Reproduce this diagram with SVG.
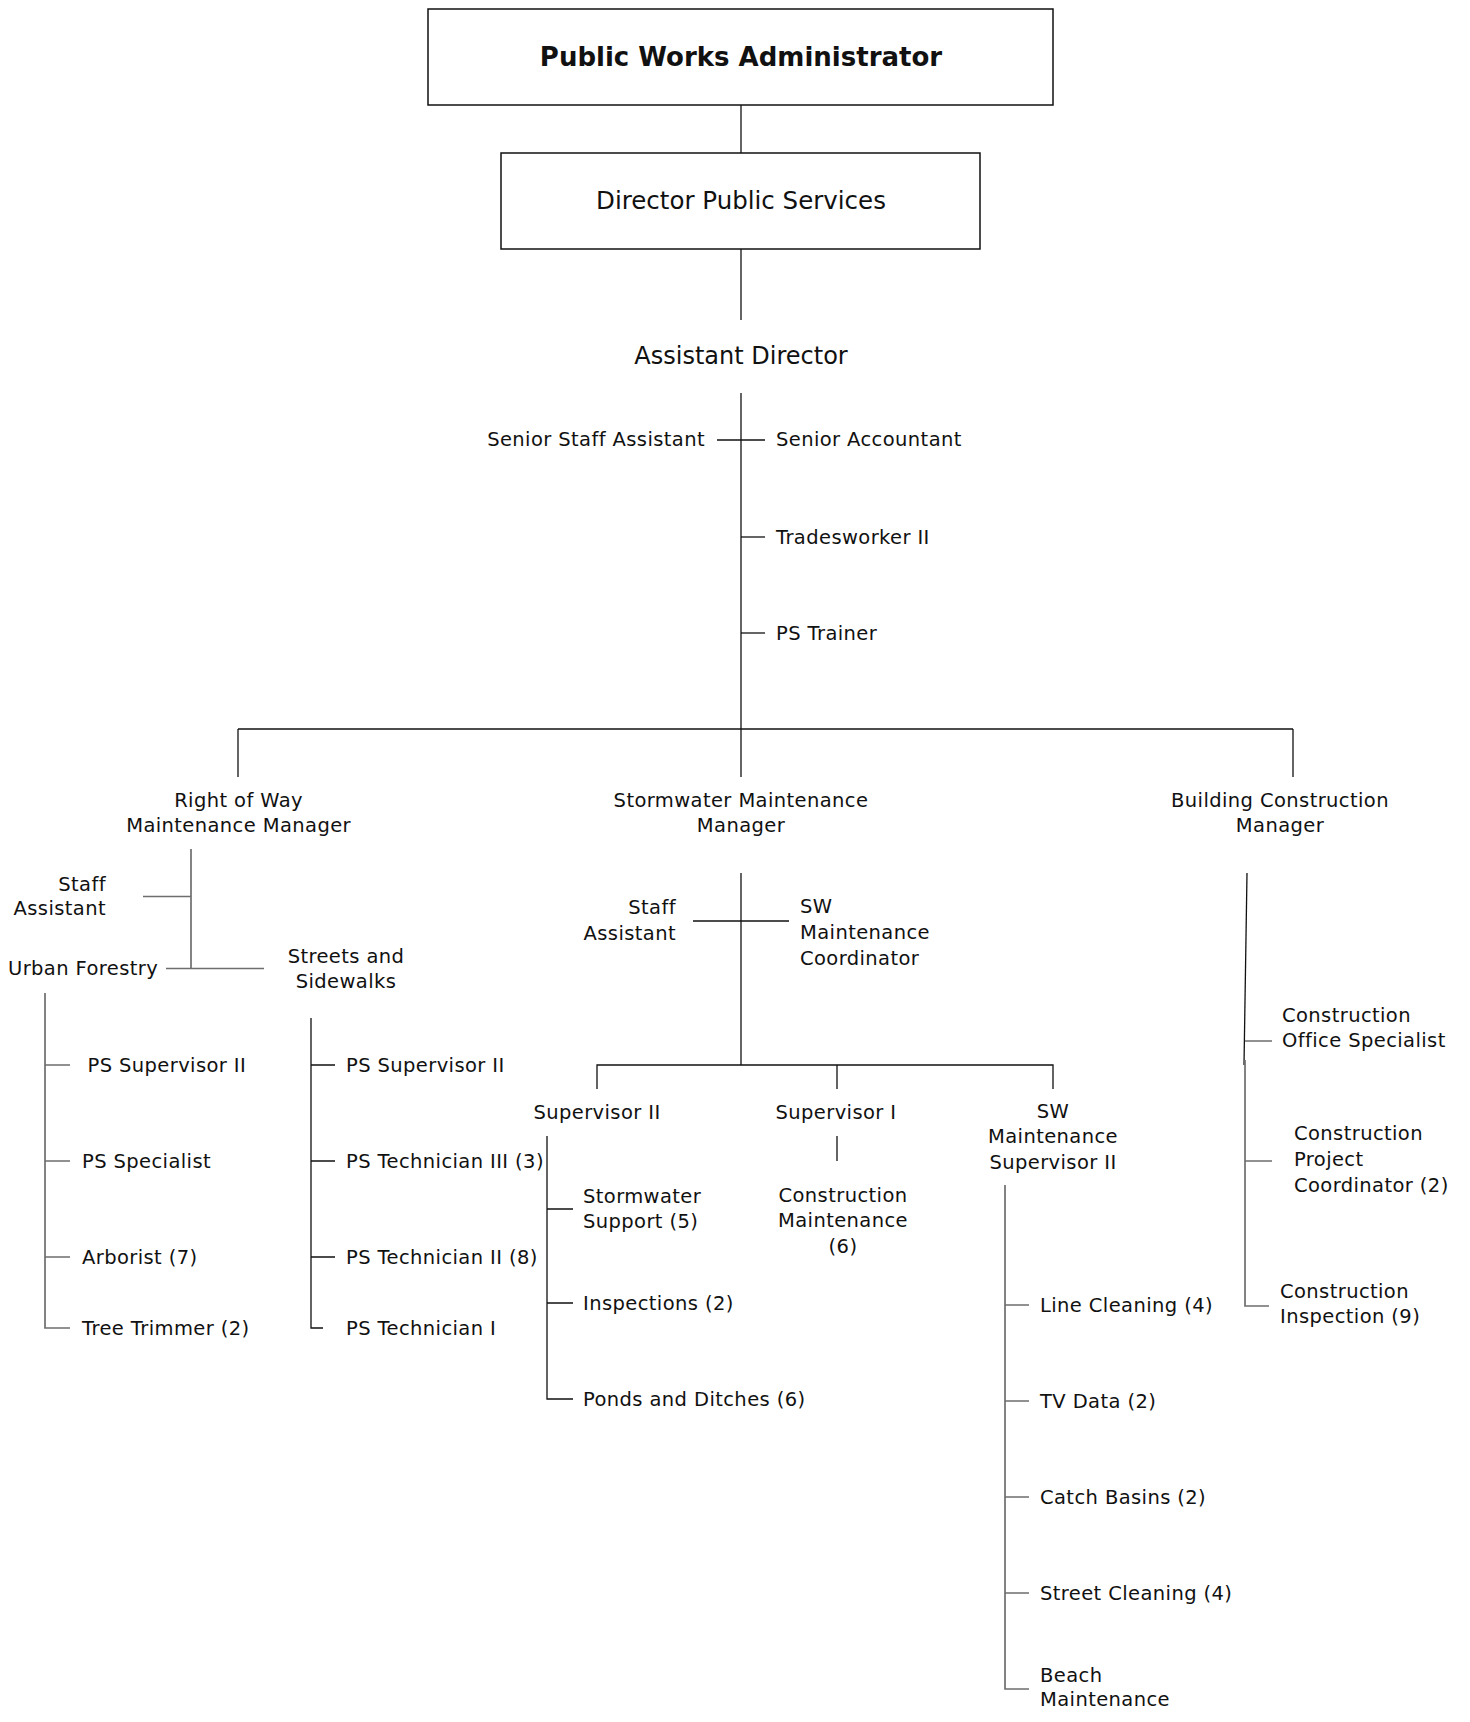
<svg xmlns="http://www.w3.org/2000/svg" width="1470" height="1722" viewBox="0 0 1470 1722">
<style>
text{font-family:"DejaVu Sans","Liberation Sans",sans-serif;font-size:19.5px;fill:#111;letter-spacing:0.4px}
.m{text-anchor:middle}.e{text-anchor:end}
.t1{font-size:26px;font-weight:bold;letter-spacing:0}
.t2{font-size:24.5px;letter-spacing:0}
.t3{font-size:24px;letter-spacing:0}
.box{fill:#fff;stroke:#111;stroke-width:1.5}
.k line,.k path{stroke:#111;stroke-width:1.3;fill:none}
.k .g{stroke:#6e6e6e;stroke-width:1.7}
</style>
<rect width="1470" height="1722" fill="#fff"/>
<g id="connectors" class="k">
<line x1="741" y1="105" x2="741" y2="153"/>
<line x1="741" y1="249" x2="741" y2="320"/>
<line x1="741" y1="393" x2="741" y2="777"/>
<line x1="717" y1="440" x2="765" y2="440"/>
<line x1="741" y1="537" x2="765" y2="537"/>
<line x1="741" y1="633" x2="765" y2="633"/>
<line x1="238" y1="729" x2="1293" y2="729"/>
<line x1="238" y1="729" x2="238" y2="777"/>
<line x1="1293" y1="729" x2="1293" y2="777"/>
<line class="g" x1="191" y1="849" x2="191" y2="969"/>
<line class="g" x1="143" y1="896.5" x2="191" y2="896.5"/>
<line class="g" x1="166" y1="968.5" x2="264" y2="968.5"/>
<path class="g" d="M45 993V1328H70M45 1065H70M45 1161H70M45 1257H70"/>
<path d="M311 1018V1328H323M311 1065H335M311 1161H335M311 1257H335"/>
<line x1="741" y1="873" x2="741" y2="1065"/>
<line x1="693" y1="921" x2="789" y2="921"/>
<path d="M597 1089V1065H1053V1089M837 1065V1089"/>
<line x1="837" y1="1136" x2="837" y2="1161"/>
<path d="M547 1136V1399H573M547 1209H573M547 1303H573"/>
<path class="g" d="M1005 1185V1689H1029M1005 1305H1029M1005 1401H1029M1005 1497H1029M1005 1593H1029"/>
<line x1="1247" y1="873" x2="1244" y2="1065"/>
<path class="g" d="M1245 1060V1306H1269M1245 1041H1272M1245 1161H1272"/>
</g>
<g id="n-admin"><rect class="box" x="428" y="9" width="625" height="96"/><text class="m t1" x="741" y="65.5">Public Works Administrator</text></g>
<g id="n-director"><rect class="box" x="501" y="153" width="479" height="96"/><text class="m t2" x="741" y="209">Director Public Services</text></g>
<g id="n-asstdir"><text class="m t3" x="741" y="364">Assistant Director</text></g>
<g id="n-senstaff"><text class="e" x="705" y="446">Senior Staff Assistant</text></g>
<g id="n-senacct"><text x="776" y="446">Senior Accountant</text></g>
<g id="n-trades"><text x="776" y="544">Tradesworker II</text></g>
<g id="n-trainer"><text x="776" y="640">PS Trainer</text></g>
<g id="n-row"><text class="m" x="238.6" y="807">Right of Way</text><text class="m" x="238.6" y="832">Maintenance Manager</text></g>
<g id="n-swm"><text class="m" x="741" y="807">Stormwater Maintenance</text><text class="m" x="741" y="832">Manager</text></g>
<g id="n-bcm"><text class="m" x="1280" y="807">Building Construction</text><text class="m" x="1280" y="832">Manager</text></g>
<g id="n-row-staff"><text class="e" x="106" y="891">Staff</text><text class="e" x="106" y="915">Assistant</text></g>
<g id="n-urban"><text x="8" y="975">Urban Forestry</text></g>
<g id="n-streets"><text class="m" x="346" y="963">Streets and</text><text class="m" x="346" y="988">Sidewalks</text></g>
<g id="n-uf-sup"><text x="87.5" y="1072">PS Supervisor II</text></g>
<g id="n-uf-spec"><text x="82" y="1168">PS Specialist</text></g>
<g id="n-uf-arb"><text x="82" y="1264">Arborist (7)</text></g>
<g id="n-uf-tree"><text x="82" y="1335">Tree Trimmer (2)</text></g>
<g id="n-ss-sup"><text x="346" y="1072">PS Supervisor II</text></g>
<g id="n-ss-t3"><text x="346" y="1168">PS Technician III (3)</text></g>
<g id="n-ss-t2"><text x="346" y="1264">PS Technician II (8)</text></g>
<g id="n-ss-t1"><text x="346" y="1335">PS Technician I</text></g>
<g id="n-sw-staff"><text class="e" x="676" y="914">Staff</text><text class="e" x="676" y="940">Assistant</text></g>
<g id="n-sw-coord"><text x="800" y="913">SW</text><text x="800" y="939">Maintenance</text><text x="800" y="965">Coordinator</text></g>
<g id="n-sup2"><text class="m" x="597" y="1119">Supervisor II</text></g>
<g id="n-sup1"><text class="m" x="836" y="1119">Supervisor I</text></g>
<g id="n-swsup"><text class="m" x="1053" y="1118">SW</text><text class="m" x="1053" y="1143">Maintenance</text><text class="m" x="1053" y="1169">Supervisor II</text></g>
<g id="n-constmaint"><text class="m" x="843" y="1202">Construction</text><text class="m" x="843" y="1227">Maintenance</text><text class="m" x="843" y="1253">(6)</text></g>
<g id="n-swsupport"><text x="583" y="1203">Stormwater</text><text x="583" y="1228">Support (5)</text></g>
<g id="n-insp"><text x="583" y="1310">Inspections (2)</text></g>
<g id="n-ponds"><text x="583" y="1406">Ponds and Ditches (6)</text></g>
<g id="n-line"><text x="1040" y="1312">Line Cleaning (4)</text></g>
<g id="n-tv"><text x="1040" y="1408">TV Data (2)</text></g>
<g id="n-catch"><text x="1040" y="1504">Catch Basins (2)</text></g>
<g id="n-street"><text x="1040" y="1600">Street Cleaning (4)</text></g>
<g id="n-beach"><text x="1040" y="1682">Beach</text><text x="1040" y="1706">Maintenance</text></g>
<g id="n-cos"><text x="1282" y="1022">Construction</text><text x="1282" y="1047">Office Specialist</text></g>
<g id="n-cpc"><text x="1294" y="1140">Construction</text><text x="1294" y="1166">Project</text><text x="1294" y="1192">Coordinator (2)</text></g>
<g id="n-ci"><text x="1280" y="1298">Construction</text><text x="1280" y="1323">Inspection (9)</text></g>
</svg>
